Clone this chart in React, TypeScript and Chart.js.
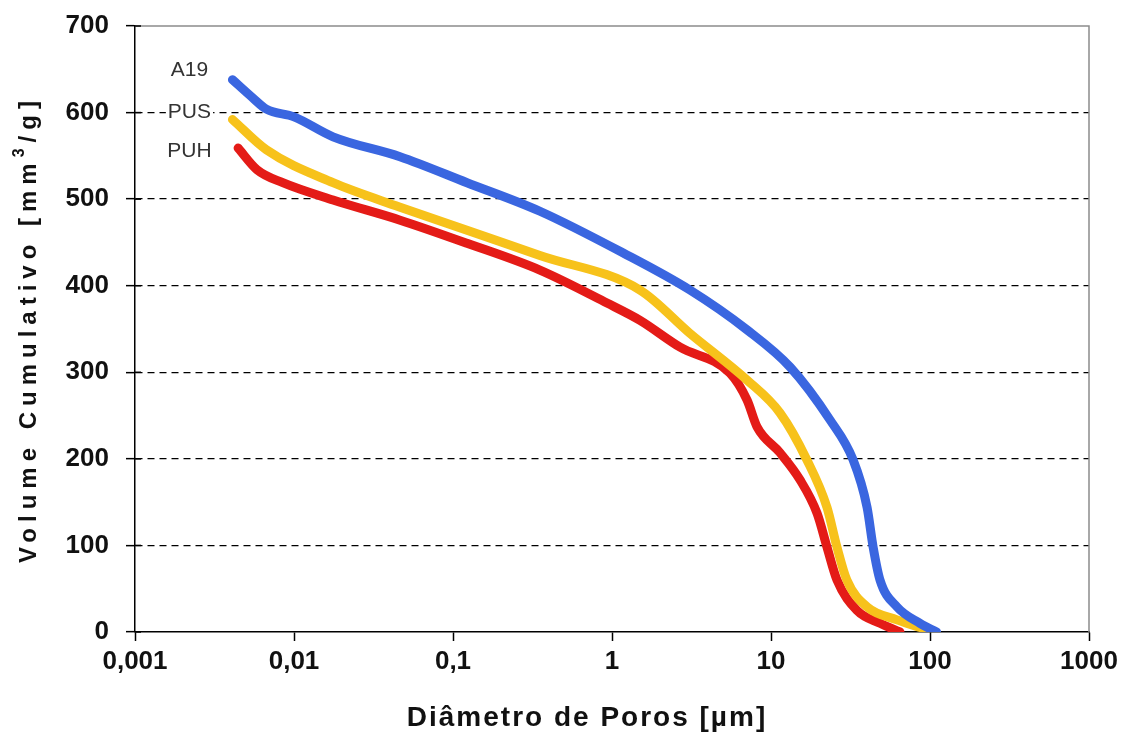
import React, { useEffect, useRef } from "react";
import { Chart, registerables } from "chart.js";

Chart.register(...registerables);

const xTickValues = [0.001, 0.01, 0.1, 1, 10, 100, 1000];
const xTickLabels = ["0,001", "0,01", "0,1", "1", "10", "100", "1000"];
const yTickValues = [0, 100, 200, 300, 400, 500, 600, 700];

const a19X = [0.0041, 0.0055, 0.0067, 0.01, 0.0176, 0.0464, 0.1225, 0.352, 1.17, 3.09, 7.07, 13.2, 23.5, 32.8, 40.2, 43.9, 48.5, 62, 86.5, 110];
const a19Y = [638, 617, 604, 595, 572, 549, 519, 486, 438, 395, 349, 306, 245, 199, 144, 98, 60, 29, 10, 0];

const pusX = [0.0041, 0.0067, 0.0176, 0.046, 0.1225, 0.352, 1.5, 3.09, 7.07, 11.4, 16.8, 22.5, 26, 30, 40.2, 62, 95];
const pusY = [592, 557, 519, 491, 464, 435, 395, 345, 291, 253, 199, 144, 98, 60, 29, 14, 3];

const puhX = [0.00445, 0.00585, 0.0085, 0.0176, 0.046, 0.1225, 0.352, 0.93, 1.5, 2.68, 5.52, 7.07, 8.17, 11.4, 15.2, 19.5, 22.5, 26, 34.7, 48.5, 64.7];
const puhY = [559, 534, 519, 499, 476, 449, 418, 380, 360, 329, 299, 268, 237, 207, 176, 137, 98, 60, 25, 10, 0];

const seriesNames = ["A19", "PUS", "PUH"];
const seriesColors = ["#3A66E0", "#F7C21B", "#E41B17"];
const labelX = [0.0022, 0.0022, 0.0022];
const labelY = [649, 601, 555];

const toPoints = (xs: number[], ys: number[]) => xs.map((x, i) => ({ x, y: ys[i] }));

const FONT = "'Liberation Sans', Arial, sans-serif";

const decorPlugin = {
  id: "decor",
  afterDraw(chart: any) {
    const { ctx, chartArea, scales } = chart;
    const xs = scales.x;
    const ys = scales.y;
    ctx.save();
    // gray top/right frame
    ctx.strokeStyle = "#8c8c8c";
    ctx.lineWidth = 1.5;
    ctx.beginPath();
    ctx.moveTo(chartArea.left, chartArea.top);
    ctx.lineTo(chartArea.right, chartArea.top);
    ctx.lineTo(chartArea.right, chartArea.bottom);
    ctx.stroke();
    // inner half of y ticks
    ctx.strokeStyle = "#000";
    ctx.lineWidth = 1.5;
    yTickValues.forEach((v) => {
      const py = ys.getPixelForValue(v);
      ctx.beginPath();
      ctx.moveTo(chartArea.left, py);
      ctx.lineTo(chartArea.left + 6, py);
      ctx.stroke();
    });
    // series labels
    ctx.font = `21px ${FONT}`;
    ctx.textAlign = "center";
    ctx.textBaseline = "middle";
    seriesNames.forEach((name, i) => {
      const px = xs.getPixelForValue(labelX[i]);
      const py = ys.getPixelForValue(labelY[i]);
      const w = ctx.measureText(name).width;
      ctx.fillStyle = "#fff";
      ctx.fillRect(px - w / 2 - 2, py - 10, w + 4, 20);
      ctx.fillStyle = "#333";
      ctx.fillText(name, px, py);
    });
    // y title (rotated, letter-spaced)
    ctx.save();
    const cy = (chartArea.top + chartArea.bottom) / 2;
    ctx.translate(29, cy);
    ctx.rotate(-Math.PI / 2);
    ctx.fillStyle = "#111";
    (ctx as any).letterSpacing = "6px";
    ctx.textBaseline = "middle";
    ctx.textAlign = "left";
    const big = `bold 24px ${FONT}`;
    const small = `bold 16px ${FONT}`;
    const p1 = "Volume Cumulativo [mm";
    const p2 = "3";
    const p3 = "/g]";
    ctx.font = big;
    const w1 = ctx.measureText(p1).width;
    const w3 = ctx.measureText(p3).width;
    ctx.font = small;
    const w2 = ctx.measureText(p2).width;
    const total = w1 + w2 + w3;
    let sx = -total / 2;
    ctx.font = big;
    ctx.fillText(p1, sx, 0);
    sx += w1;
    ctx.font = small;
    ctx.fillText(p2, sx, -9);
    sx += w2;
    ctx.font = big;
    ctx.fillText(p3, sx, 0);
    ctx.restore();
    // x title
    ctx.save();
    ctx.font = `bold 28px ${FONT}`;
    (ctx as any).letterSpacing = "2px";
    ctx.fillStyle = "#111";
    ctx.textAlign = "center";
    ctx.textBaseline = "middle";
    ctx.fillText("Diâmetro de Poros [µm]", (chartArea.left + chartArea.right) / 2 - 25, 718);
    ctx.restore();
    ctx.restore();
  },
};

export default function App() {
  const ref = useRef<HTMLCanvasElement | null>(null);
  useEffect(() => {
    document.body.style.margin = "0";
    const canvas = ref.current;
    if (!canvas) return;
    const chart = new Chart(canvas, {
      type: "line",
      data: {
        datasets: [
          { label: seriesNames[0], data: toPoints(a19X, a19Y), borderColor: seriesColors[0] },
          { label: seriesNames[1], data: toPoints(pusX, pusY), borderColor: seriesColors[1] },
          { label: seriesNames[2], data: toPoints(puhX, puhY), borderColor: seriesColors[2] },
        ].map((d) => ({
          ...d,
          borderWidth: 9,
          pointRadius: 0,
          cubicInterpolationMode: "monotone" as const,
          fill: false,
          borderJoinStyle: "round" as const,
          borderCapStyle: "round" as const,
        })),
      },
      options: {
        animation: false,
        responsive: false,
        layout: { padding: { left: 0, right: 42, top: 26, bottom: 0 } },
        plugins: { legend: { display: false }, tooltip: { enabled: false } },
        scales: {
          x: {
            type: "logarithmic",
            min: 0.001,
            max: 1000,
            afterBuildTicks: (axis: any) => {
              axis.ticks = xTickValues.map((v) => ({ value: v }));
            },
            afterFit: (axis: any) => {
              axis.height = 110;
              axis.paddingLeft = 0;
              axis.paddingRight = 0;
            },
            ticks: {
              autoSkip: false,
              maxRotation: 0,
              padding: 5,
              color: "#111",
              font: { family: FONT, size: 26, weight: "bold" },
              callback: (v: any) => {
                const i = xTickValues.findIndex((t) => Math.abs(t - Number(v)) / t < 1e-6);
                return i >= 0 ? xTickLabels[i] : "";
              },
            },
            grid: { drawOnChartArea: false, tickLength: 9, tickColor: "#000", tickWidth: 1.5 },
            border: { color: "#000", width: 1.5 },
          },
          y: {
            type: "linear",
            min: 0,
            max: 700,
            afterBuildTicks: (axis: any) => {
              axis.ticks = yTickValues.map((v) => ({ value: v }));
            },
            afterFit: (axis: any) => {
              axis.width = 135;
              axis.paddingTop = 0;
              axis.paddingBottom = 0;
            },
            ticks: {
              padding: 17,
              color: "#111",
              font: { family: FONT, size: 26, weight: "bold" },
            },
            grid: {
              color: (c: any) => (c.tick && (c.tick.value === 0 || c.tick.value === 700) ? "rgba(0,0,0,0)" : "#000"),
              lineWidth: 1.3,
              tickLength: 9,
              tickColor: "#000",
              tickWidth: 1.5,
            },
            border: { color: "#000", width: 1.5, dash: [7, 5] },
          },
        },
      },
      plugins: [decorPlugin],
    });
    return () => chart.destroy();
  }, []);
  return (
    <div style={{ width: 1131, height: 742, background: "#fff" }}>
      <canvas ref={ref} width={1131} height={742} style={{ display: "block" }} />
    </div>
  );
}
